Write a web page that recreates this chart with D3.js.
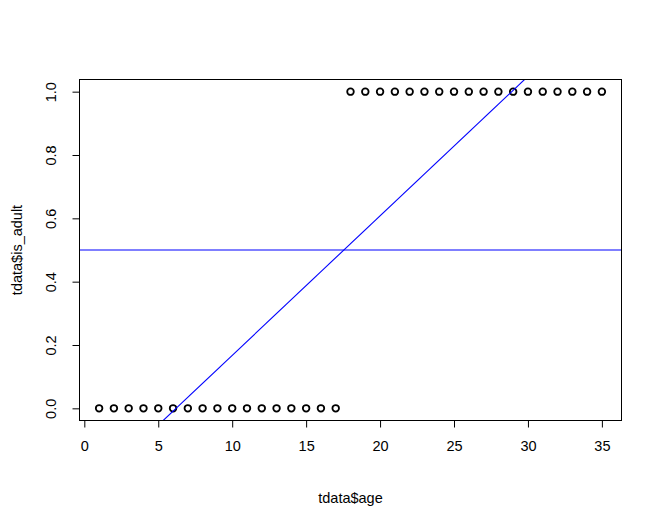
<!DOCTYPE html>
<html><head><meta charset="utf-8">
<script src="https://cdn.jsdelivr.net/npm/d3@7"></script>
<style>body{margin:0;background:#fff}svg{display:block}text{font-family:"Liberation Sans",Arial,sans-serif;fill:#000}</style>
</head><body><div id="chart"></div>
<script>
const ages = d3.range(1, 36);
const isAdult = [0,0,0,0,0,0,0,0,0,0,0,0,0,0,0,0,0,1,1,1,1,1,1,1,1,1,1,1,1,1,1,1,1,1,1];
const xTicks = [0,5,10,15,20,25,30,35];
const yTicks = [0,0.2,0.4,0.6,0.8,1.0];
const fitIntercept = -0.2733;
const fitSlope = 0.04406;
const hLine = 0.5;
const xLabel = "tdata$age", yLabel = "tdata$is_adult";

const W = 662, H = 519;
const L = 79, R = 622, T = 79, B = 421;
const svg = d3.select("#chart").append("svg").attr("width", W).attr("height", H);
const x = d3.scaleLinear().domain([-0.36, 36.36]).range([L, R]);
const y = d3.scaleLinear().domain([-0.04, 1.04]).range([B, T]);

svg.append("defs").append("clipPath").attr("id","clip")
  .append("rect").attr("x",L).attr("y",T).attr("width",R-L).attr("height",B-T);

// points
svg.append("g").selectAll("circle").data(ages).join("circle")
  .attr("cx", d => x(d)).attr("cy", (d,i) => y(isAdult[i]))
  .attr("r", 3.3).attr("fill","none").attr("stroke","#000").attr("stroke-width",1.8);

// lines
const g = svg.append("g").attr("clip-path","url(#clip)");
const xd = x.domain();
g.append("line").attr("x1", x(xd[0])).attr("x2", x(xd[1]))
  .attr("y1", y(fitIntercept + fitSlope*xd[0])).attr("y2", y(fitIntercept + fitSlope*xd[1]))
  .attr("stroke","#0000ff").attr("stroke-width",1.1);
g.append("line").attr("x1", L).attr("x2", R).attr("y1", y(hLine)).attr("y2", y(hLine))
  .attr("stroke","#0000ff").attr("stroke-width",1.1);

// box
svg.append("rect").attr("x",L+0.5).attr("y",T+0.5).attr("width",R-L-1).attr("height",B-T-1)
  .attr("fill","none").attr("stroke","#000").attr("stroke-width",1);

// x axis
const xa = svg.append("g").attr("transform",`translate(0,${B-0.5})`)
  .call(d3.axisBottom(x).tickValues(xTicks).tickSize(7).tickSizeOuter(0).tickPadding(13));
xa.select(".domain").attr("d", `M${x(0)},0H${x(35)}`).attr("stroke","#000");
xa.selectAll(".tick line").attr("stroke","#000");
xa.selectAll("text").attr("font-size","14.5px").attr("font-family","Liberation Sans, Arial, sans-serif");

// y axis
const ya = svg.append("g").attr("transform",`translate(${L+0.5},0)`)
  .call(d3.axisLeft(y).tickValues(yTicks).tickSize(7).tickSizeOuter(0).tickFormat(d3.format(".1f")));
ya.select(".domain").attr("d", `M0,${y(0)}V${y(1)}`).attr("stroke","#000");
ya.selectAll(".tick line").attr("stroke","#000");
ya.selectAll("text").attr("font-size","14.5px").attr("font-family","Liberation Sans, Arial, sans-serif")
  .attr("x", null).attr("dy", null).attr("text-anchor","middle")
  .attr("transform", `translate(${55.5-(L+0.5)},0) rotate(-90)`).attr("y",0);

// axis titles
svg.append("text").attr("x", (L+R)/2).attr("y", 503).attr("text-anchor","middle")
  .attr("font-size","14.5px").text(xLabel);
svg.append("text").attr("transform", `translate(21.5,${(T+B)/2}) rotate(-90)`).attr("text-anchor","middle")
  .attr("font-size","14.5px").text(yLabel);
</script></body></html>
